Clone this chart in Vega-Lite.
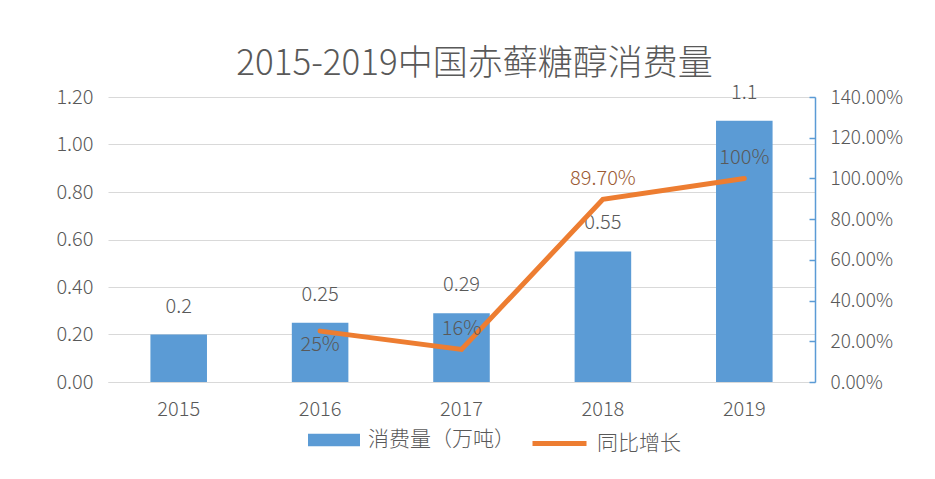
{
  "$schema": "https://vega.github.io/schema/vega-lite/v6.json",
  "width": 707,
  "height": 285,
  "autosize": {"type": "none"},
  "padding": {"left": 108, "top": 97, "right": 120, "bottom": 97},
  "background": "white",
  "config": {
    "font": "Noto Sans CJK SC",
    "view": {"stroke": null},
    "axis": {"labelFont": "Noto Sans CJK SC", "labelFontWeight": 300, "labelColor": "#595959", "labelFontSize": 20, "titleFontSize": 0},
    "legend": {"labelFontWeight": 300},
    "text": {"fontWeight": 300}
  },
  "title": {
    "text": "2015-2019中国赤藓糖醇消费量",
    "fontSize": 35,
    "font": "Noto Sans CJK SC",
    "fontWeight": 300,
    "color": "#595959",
    "anchor": "middle",
    "dx": 13,
    "baseline": "bottom",
    "offset": -34
  },
  "data": {
    "values": [
      {"year": "2015", "consumption": 0.2, "growth": null, "label": null},
      {"year": "2016", "consumption": 0.25, "growth": 0.25, "label": "25%"},
      {"year": "2017", "consumption": 0.29, "growth": 0.16, "label": "16%"},
      {"year": "2018", "consumption": 0.55, "growth": 0.897, "label": "89.70%"},
      {"year": "2019", "consumption": 1.1, "growth": 1.0, "label": "100%"}
    ]
  },
  "encoding": {
    "x": {
      "field": "year",
      "type": "nominal",
      "scale": {"paddingInner": 0.6, "paddingOuter": 0.3},
      "axis": {
        "title": null,
        "labelAngle": 0,
        "ticks": false,
        "domainColor": "#d9d9d9",
        "domainWidth": 1,
        "labelPadding": 17,
        "labelFontSize": 20
      }
    }
  },
  "layer": [
    {
      "layer": [
        {
          "mark": {"type": "bar"},
          "encoding": {
            "y": {
              "field": "consumption",
              "type": "quantitative",
              "scale": {"domain": [0, 1.2]},
              "axis": {
                "title": null,
                "orient": "left",
                "values": [0, 0.2, 0.4, 0.6, 0.8, 1.0, 1.2],
                "format": ".2f",
                "domain": false,
                "ticks": false,
                "gridColor": "#d9d9d9",
                "labelPadding": 15
              }
            },
            "fill": {
              "datum": "消费量（万吨）",
              "type": "nominal",
              "scale": {"range": ["#5b9bd5"]},
              "legend": {
                "orient": "none",
                "legendX": 200,
                "legendY": 317,
                "title": null,
                "symbolType": "M-1,-0.24H1V0.24H-1Z",
                "symbolSize": 2704,
                "symbolStrokeWidth": 0,
                "labelFontSize": 21,
                "labelColor": "#595959",
                "labelOffset": 8
              }
            }
          }
        },
        {
          "mark": {"type": "text", "dy": -28, "fontSize": 20, "color": "#595959"},
          "encoding": {
            "y": {"field": "consumption", "type": "quantitative"},
            "text": {"field": "consumption", "type": "quantitative"}
          }
        }
      ]
    },
    {
      "transform": [{"filter": "datum.growth != null"}],
      "layer": [
        {
          "mark": {"type": "line", "strokeWidth": 5, "strokeCap": "round"},
          "encoding": {
            "y": {
              "field": "growth",
              "type": "quantitative",
              "scale": {"domain": [0, 1.4]},
              "axis": {
                "title": null,
                "orient": "right",
                "grid": false,
                "values": [0, 0.1, 0.2, 0.3, 0.4, 0.5, 0.6, 0.7, 0.8, 0.9, 1.0, 1.1, 1.2, 1.3, 1.4],
                "labelExpr": "round(datum.value*10) % 2 == 0 ? format(datum.value, '.2%') : ''",
                "labelOverlap": false,
                "labelFontSize": 19,
                "domainColor": "#5b9bd5",
                "domainWidth": 1.5,
                "tickColor": "#5b9bd5",
                "tickWidth": 1.5,
                "tickSize": -6,
                "labelPadding": 21
              }
            },
            "stroke": {
              "datum": "同比增长",
              "type": "nominal",
              "scale": {"range": ["#ed7d31"]},
              "legend": {
                "orient": "none",
                "legendX": 422,
                "legendY": 317,
                "title": null,
                "symbolType": "stroke",
                "symbolSize": 2916,
                "symbolStrokeWidth": 5,
                "labelFontSize": 21,
                "labelColor": "#595959",
                "labelOffset": 8
              }
            }
          }
        },
        {
          "transform": [{"filter": "datum.year == '2016'"}],
          "mark": {"type": "text", "dy": 14, "fontSize": 20, "color": "#595959"},
          "encoding": {
            "y": {"field": "growth", "type": "quantitative"},
            "text": {"field": "label"}
          }
        },
        {
          "transform": [{"filter": "datum.year != '2016'"}],
          "mark": {"type": "text", "dy": -20, "fontSize": 20},
          "encoding": {
            "y": {"field": "growth", "type": "quantitative"},
            "text": {"field": "label"},
            "color": {
              "condition": {"test": "datum.year == '2018'", "value": "#9c5b34"},
              "value": "#595959"
            }
          }
        }
      ]
    }
  ],
  "resolve": {"scale": {"y": "independent", "fill": "independent", "stroke": "independent"}}
}
